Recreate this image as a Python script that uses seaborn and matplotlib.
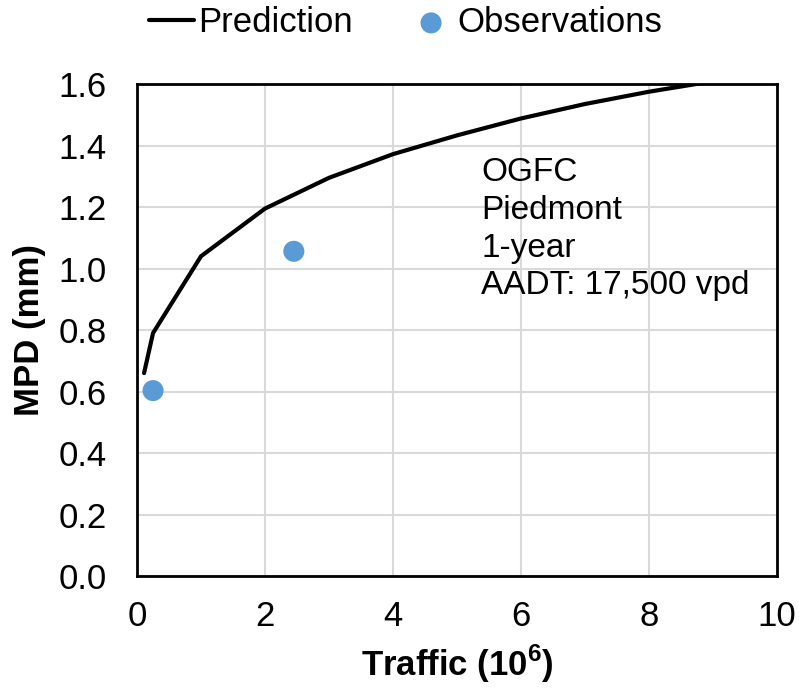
import matplotlib
matplotlib.use("Agg")
import matplotlib.pyplot as plt
import seaborn as sns
import pandas as pd

# Predicted mean profile depth versus cumulative traffic
pred_traffic = [0.11, 0.25, 1.0, 2.0, 3.0, 4.0, 5.0, 6.0, 7.0, 8.0, 9.0, 10.0]
pred_mpd = [0.66, 0.79, 1.04, 1.195, 1.295, 1.372, 1.433, 1.488, 1.535, 1.575, 1.609, 1.645]

# Field observations
obs_traffic = [0.25, 2.45]
obs_mpd = [0.603, 1.056]

x_ticks = [0, 2, 4, 6, 8, 10]
y_ticks = [0.0, 0.2, 0.4, 0.6, 0.8, 1.0, 1.2, 1.4, 1.6]
note_lines = ["OGFC", "Piedmont", "1-year", "AADT: 17,500 vpd"]

sns.set_theme(style="whitegrid")
plt.rcParams["font.family"] = ["Liberation Sans", "DejaVu Sans"]
plt.rcParams["text.color"] = "black"
plt.rcParams["mathtext.fontset"] = "custom"
plt.rcParams["mathtext.rm"] = "Liberation Sans"
plt.rcParams["mathtext.bf"] = "Liberation Sans:bold"

FS = 25

pred = pd.DataFrame({"Traffic": pred_traffic, "MPD": pred_mpd})
obs = pd.DataFrame({"Traffic": obs_traffic, "MPD": obs_mpd})

fig = plt.figure(figsize=(7.99, 6.91), dpi=100)
ax = fig.add_axes([0.1715, 0.1664, 0.801, 0.7120])

sns.lineplot(data=pred, x="Traffic", y="MPD", ax=ax, color="black",
             linewidth=3.0, label="Prediction", zorder=3)
sns.scatterplot(data=obs, x="Traffic", y="MPD", ax=ax, color="#5b9bd5",
                s=230, edgecolor="none", label="Observations", zorder=4)

ax.set_xlim(0, 10)
ax.set_ylim(0, 1.6)
ax.set_xticks(x_ticks)
ax.set_yticks(y_ticks)
ax.set_yticklabels([f"{v:.1f}" for v in y_ticks])
ax.tick_params(axis="both", labelsize=FS, colors="black", length=0)
ax.tick_params(axis="y", pad=22)
ax.tick_params(axis="x", pad=17)
ax.grid(True, color="#d9d9d9", linewidth=1.5)
for sp in ax.spines.values():
    sp.set_visible(True)
    sp.set_color("black")
    sp.set_linewidth(2)

ax.set_xlabel("Traffic (10$^{\\mathbf{6}}$)", fontsize=FS, fontweight="bold",
              labelpad=7, color="black")
ax.set_ylabel("MPD (mm)", fontsize=FS, fontweight="bold", labelpad=9,
              color="black")

ax.text(5.38, 1.362, "\n".join(note_lines), fontsize=24, va="top", ha="left",
        linespacing=1.28, color="black")

leg = ax.legend(loc="center", bbox_to_anchor=(0.42, 1.125), ncol=2,
                frameon=False, fontsize=FS, handlelength=1.3,
                handletextpad=0.12, columnspacing=1.6, borderaxespad=0.0)

fig.savefig("out.png", dpi=100, facecolor="white")
